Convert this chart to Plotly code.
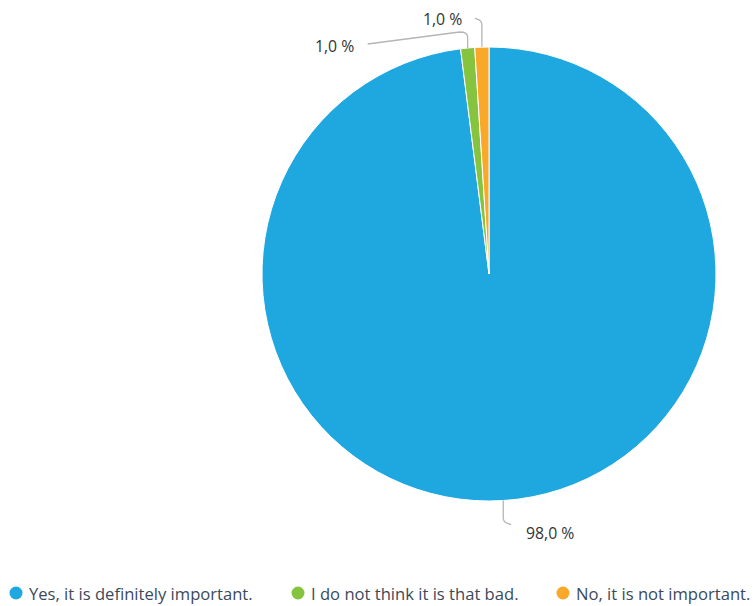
import math
import plotly.graph_objects as go

# Survey answers and their shares (%)
categories = ["Yes, it is definitely important.",
              "I do not think it is that bad.",
              "No, it is not important."]
shares = [98.0, 1.0, 1.0]
colors = ["#1fa8e0", "#86c440", "#f9a82a"]
value_labels = ["98,0 %", "1,0 %", "1,0 %"]

W, H = 755, 606
CX, CY, R = 489, 274, 227          # pie centre and radius in pixels


def px(x):
    return x / W


def py(y):
    return 1 - y / H


fig = go.Figure()
fig.add_trace(go.Pie(
    labels=categories,
    values=shares,
    sort=False,
    direction="clockwise",
    rotation=0,
    textinfo="none",
    showlegend=False,
    marker=dict(colors=colors, line=dict(color="white", width=1)),
    domain=dict(x=[px(CX - R), px(CX + R)], y=[py(CY + R), py(CY - R)]),
))

# mid-angle of each slice (degrees clockwise from 12 o'clock)
total = sum(shares)
mids = []
acc = 0.0
for v in shares:
    mids.append((acc + v / 2) / total * 360)
    acc += v

shapes = []
annotations = []
line_style = dict(color="#b5b5b5", width=1.3)
lab_font = dict(family="Open Sans", size=15.8, color="#333333")

# leader geometry per slice: vertical run, horizontal hook, label anchor
leaders = [
    dict(run=22, hook=8, lx=524, ly=533, anchor="left"),
    dict(run=-15, hook=-100, lx=356, ly=46, anchor="right"),
    dict(run=-27, hook=-7, lx=464, ly=19, anchor="right"),
]
for i, (ang, ld) in enumerate(zip(mids, leaders)):
    ex = CX + R * math.sin(math.radians(ang))
    ey = CY - R * math.cos(math.radians(ang))
    sgn = 1 if ld["run"] > 0 else -1
    vy = ey + ld["run"]
    hs = 1 if ld["hook"] > 0 else -1
    if i == 1:
        # long slanted run toward the left-hand label
        path = (f"M {px(ex)},{py(ey)} L {px(ex)},{py(vy + 4)} "
                f"Q {px(ex)},{py(vy - 1)} {px(ex - 8)},{py(vy - 1)} "
                f"L {px(ex + ld['hook'])},{py(ld['ly'] - 2)}")
    else:
        path = (f"M {px(ex)},{py(ey)} L {px(ex)},{py(vy - sgn * 5)} "
                f"Q {px(ex)},{py(vy)} {px(ex + hs * 5)},{py(vy + sgn * 1)} "
                f"L {px(ex + ld['hook'])},{py(vy + sgn * 2)}")
    shapes.append(dict(type="path", xref="paper", yref="paper",
                       path=path, line=line_style))
    annotations.append(dict(x=px(ld["lx"]), y=py(ld["ly"]), xref="paper",
                            yref="paper", text=value_labels[i],
                            showarrow=False, xanchor=ld["anchor"],
                            yanchor="middle", font=lab_font))

# bottom legend with round markers
legend_x = [16, 298, 563]
legend_y = 593
for name, col, x in zip(categories, colors, legend_x):
    shapes.append(dict(type="circle", xref="paper", yref="paper",
                       xsizemode="pixel", ysizemode="pixel",
                       xanchor=px(x), yanchor=py(legend_y),
                       x0=-6.5, x1=6.5, y0=-6.5, y1=6.5,
                       fillcolor=col, line=dict(width=0)))
    annotations.append(dict(x=px(x + 11), y=py(legend_y), xref="paper",
                            yref="paper", text=name, showarrow=False,
                            xanchor="left", yanchor="middle",
                            font=dict(family="Open Sans", size=16.6,
                                      color="#3b4a5a")))

fig.update_layout(
    width=W, height=H,
    margin=dict(l=0, r=0, t=0, b=0),
    paper_bgcolor="white",
    plot_bgcolor="white",
    shapes=shapes,
    annotations=annotations,
)

fig.write_html("out.html")
